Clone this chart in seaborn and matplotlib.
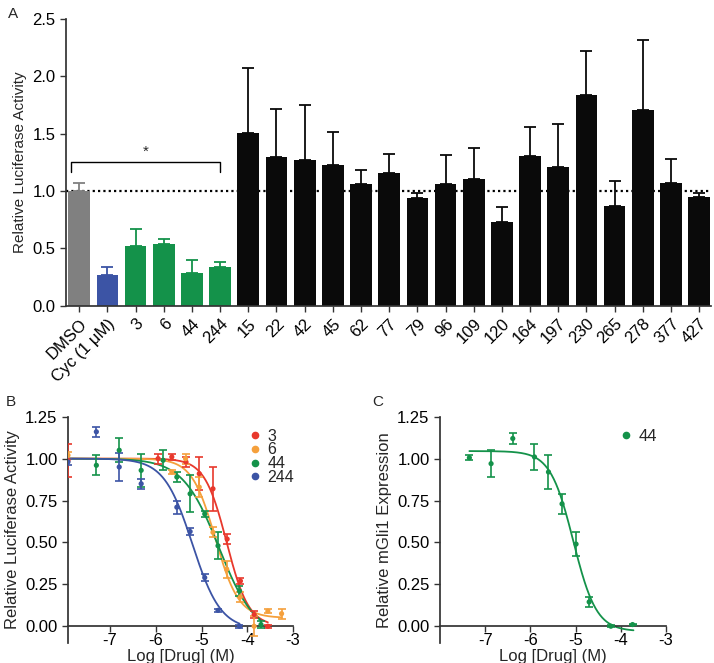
import numpy as np
import pandas as pd
import matplotlib
matplotlib.use("Agg")
import matplotlib.pyplot as plt
import seaborn as sns
from matplotlib.lines import Line2D

# ---------------- data: panel A ----------------
categories = ["DMSO", "Cyc (1 μM)", "3", "6", "44", "244", "15", "22", "42", "45",
              "62", "77", "79", "96", "109", "120", "164", "197", "230", "265",
              "278", "377", "427"]
bar_values = [1.003, 0.265, 0.523, 0.538, 0.288, 0.340, 1.503, 1.300, 1.268, 1.224,
              1.058, 1.160, 0.939, 1.058, 1.102, 0.732, 1.308, 1.207, 1.840, 0.872,
              1.706, 1.072, 0.945]
bar_errors = [0.064, 0.075, 0.143, 0.042, 0.112, 0.044, 0.569, 0.412, 0.484, 0.293,
              0.125, 0.160, 0.046, 0.253, 0.276, 0.128, 0.247, 0.374, 0.380, 0.213,
              0.610, 0.207, 0.035]
groups = ["ctrl", "cyc"] + ["hit"] * 4 + ["other"] * 17

# ---------------- data: panel B ----------------
b_series = ["3", "6", "44", "244"]
b_x = {
    "3":   [-7.92, -5.95, -5.65, -5.34, -5.05, -4.75, -4.44, -4.15, -3.85, -3.55],
    "6":   [-7.92, -5.65, -5.35, -5.05, -4.75, -4.45, -4.15, -3.85, -3.55, -3.25],
    "44":  [-7.30, -6.80, -6.32, -5.84, -5.54, -5.25, -4.93, -4.64, -4.17, -3.70],
    "244": [-7.92, -7.30, -6.80, -6.32, -5.54, -5.25, -4.93, -4.64, -4.17],
}
b_y = {
    "3":   [0.99, 1.00, 1.01, 0.98, 0.91, 0.82, 0.52, 0.27, 0.07, 0.00],
    "6":   [1.02, 0.92, 1.00, 0.83, 0.56, 0.34, 0.175, 0.00, 0.09, 0.075],
    "44":  [0.96, 1.05, 0.93, 0.99, 0.89, 0.79, 0.67, 0.48, 0.21, 0.01],
    "244": [0.98, 1.16, 0.95, 0.85, 0.71, 0.565, 0.29, 0.095, 0.00],
}
b_err = {
    "3":   [0.10, 0.03, 0.02, 0.03, 0.10, 0.13, 0.03, 0.02, 0.02, 0.01],
    "6":   [0.02, 0.01, 0.03, 0.06, 0.03, 0.05, 0.03, 0.06, 0.01, 0.03],
    "44":  [0.06, 0.07, 0.10, 0.06, 0.03, 0.11, 0.02, 0.08, 0.03, 0.02],
    "244": [0.02, 0.03, 0.085, 0.03, 0.04, 0.02, 0.02, 0.01, 0.01],
}
# four-parameter logistic fit parameters: top, bottom, logIC50, hill, x-range
b_fit = {
    "3":   (1.00, 0.00, -4.45, 1.8, -7.92, -3.55),
    "6":   (1.00, 0.05, -4.70, 1.7, -7.92, -3.25),
    "44":  (1.00, -0.06, -4.62, 1.1, -7.92, -3.70),
    "244": (1.00, -0.02, -5.20, 1.4, -7.92, -4.17),
}

# ---------------- data: panel C ----------------
c_x = [-7.35, -6.87, -6.39, -5.91, -5.60, -5.30, -4.99, -4.70, -4.22, -3.74]
c_y = [1.005, 0.97, 1.12, 1.01, 0.92, 0.73, 0.49, 0.145, 0.00, 0.01]
c_err = [0.015, 0.08, 0.03, 0.08, 0.10, 0.06, 0.07, 0.03, 0.005, 0.005]
c_fit = (1.045, -0.03, -5.05, 1.7, -7.35, -3.72)

# ---------------- style ----------------
RED, ORANGE, GREEN, BLUE = "#e8382c", "#f5a03c", "#14924a", "#3c54a5"
GRAY, BLACK = "#808080", "#0a0a0a"
group_colors = {"ctrl": GRAY, "cyc": BLUE, "hit": GREEN, "other": BLACK}
series_colors = {"3": RED, "6": ORANGE, "44": GREEN, "244": BLUE}

sns.set_theme(style="ticks")
plt.rcParams["font.family"] = ["Liberation Sans", "DejaVu Sans"]
plt.rcParams["axes.unicode_minus"] = False
plt.rcParams["axes.edgecolor"] = "#333333"
plt.rcParams["xtick.color"] = "#333333"
plt.rcParams["ytick.color"] = "#333333"
plt.rcParams["xtick.labelcolor"] = "black"
plt.rcParams["ytick.labelcolor"] = "black"

fig = plt.figure(figsize=(7.14, 6.63), dpi=100)
W, H = 714, 663


def px_axes(l, r, t, b):
    return fig.add_axes([l / W, 1 - b / H, (r - l) / W, (b - t) / H])


def logistic(p, n=300):
    top, bot, ic, h, x0, x1 = p
    xs = np.linspace(x0, x1, n)
    return xs, bot + (top - bot) / (1 + 10 ** ((xs - ic) * h))


FS = 11
TFS = 12

# ---------------- panel A ----------------
axA = px_axes(65.7, 711, 19, 305.7)
dfA = pd.DataFrame({"cat": categories, "val": bar_values, "err": bar_errors, "grp": groups})
palA = [group_colors[g] for g in groups]
axA.axhline(1.0, color="black", lw=1.6, ls=(0, (1, 1.4)), zorder=0.5)
sns.barplot(data=dfA, x="cat", y="val", hue="cat", palette=palA, width=0.77,
            saturation=1, legend=False, ax=axA, zorder=2, edgecolor="none")
for i, (v, e, c) in enumerate(zip(bar_values, bar_errors, palA)):
    axA.errorbar(i, v, yerr=[[0], [e]], fmt="none", ecolor=c, elinewidth=1.3,
                 capsize=4.5, capthick=1.3, zorder=3)
axA.plot([-0.3, -0.3, 5.0, 5.0], [1.17, 1.25, 1.25, 1.17], color="black", lw=1.0)
axA.text(2.35, 1.28, "*", ha="center", va="bottom", fontsize=FS)
axA.set_xlim(-0.48, 22.42)
axA.set_ylim(0, 2.5)
axA.set_yticks(np.arange(0, 2.51, 0.5))
axA.set_yticklabels([f"{v:.1f}" for v in np.arange(0, 2.51, 0.5)], fontsize=TFS)
axA.set_xlabel("")
axA.set_ylabel("Relative Luciferase Activity", fontsize=FS)
axA.set_xticks(range(len(categories)))
axA.set_xticklabels(categories, rotation=45, ha="right", rotation_mode="anchor", fontsize=TFS)
axA.tick_params(axis="both", length=4, width=1)
sns.despine(ax=axA)

# ---------------- panel B ----------------
axB = px_axes(68, 293, 416.7, 643)
for s in b_series:
    col = series_colors[s]
    xs, ys = logistic(b_fit[s])
    sns.lineplot(x=xs, y=ys, color=col, lw=1.3, ax=axB, zorder=2)
    axB.errorbar(b_x[s], b_y[s], yerr=b_err[s], fmt="none", ecolor=col,
                 elinewidth=1.2, capsize=2.8, capthick=1.2, zorder=3)
    sns.scatterplot(x=b_x[s], y=b_y[s], color=col, s=14, edgecolor="none", ax=axB, zorder=4)
handles = [Line2D([], [], ls="none", marker="o", ms=4.5, color=series_colors[s]) for s in b_series]
axB.legend(handles, b_series, loc="upper left", bbox_to_anchor=(0.78, 0.975), frameon=False,
           fontsize=FS + 0.5, handlelength=0.6, handletextpad=0.5, labelspacing=-0.08,
           borderaxespad=0)

# ---------------- panel C ----------------
axC = px_axes(440, 666, 416.7, 643)
xs, ys = logistic(c_fit)
sns.lineplot(x=xs, y=ys, color=GREEN, lw=1.3, ax=axC, zorder=2)
axC.errorbar(c_x, c_y, yerr=c_err, fmt="none", ecolor=GREEN, elinewidth=1.2,
             capsize=2.8, capthick=1.2, zorder=3)
sns.scatterplot(x=c_x, y=c_y, color=GREEN, s=14, edgecolor="none", ax=axC, zorder=4)
axC.legend([Line2D([], [], ls="none", marker="o", ms=4.5, color=GREEN)], ["44"],
           loc="upper left", bbox_to_anchor=(0.77, 0.975), frameon=False, fontsize=TFS,
           handlelength=0.6, handletextpad=0.5, borderaxespad=0)

for ax, xl, yl in [(axB, (-7.92, -3.0), "Relative Luciferase Activity"),
                   (axC, (-8.0, -3.0), "Relative mGli1 Expression")]:
    ax.set_xlim(*xl)
    ax.set_ylim(-0.1, 1.25)
    ax.spines["bottom"].set_position(("data", 0))
    ax.spines["bottom"].set_bounds(xl[0], -3.0)
    ax.spines["left"].set_bounds(-0.1, 1.25)
    sns.despine(ax=ax)
    ax.set_xticks([-7, -6, -5, -4, -3])
    ax.set_xticklabels(["-7", "-6", "-5", "-4", "-3"], fontsize=TFS)
    yt = [0, 0.25, 0.5, 0.75, 1.0, 1.25]
    ax.set_yticks(yt)
    ax.set_yticklabels([f"{v:.2f}" for v in yt], fontsize=TFS)
    ax.tick_params(axis="both", length=4, width=1)
    ax.tick_params(axis="x", pad=1.0)
    ax.set_xlabel("Log [Drug] (M)", fontsize=TFS)
    ax.xaxis.set_label_coords(0.5, -0.058)
    ax.xaxis.label.set_va("center")
    ax.set_ylabel(yl, fontsize=FS + 1)

fig.text(8 / W, 1 - 14 / H, "A", fontsize=FS, va="center")
fig.text(6 / W, 1 - 402 / H, "B", fontsize=FS, va="center")
fig.text(372 / W, 1 - 402 / H, "C", fontsize=FS, va="center")

fig.savefig("out.png", dpi=100)
